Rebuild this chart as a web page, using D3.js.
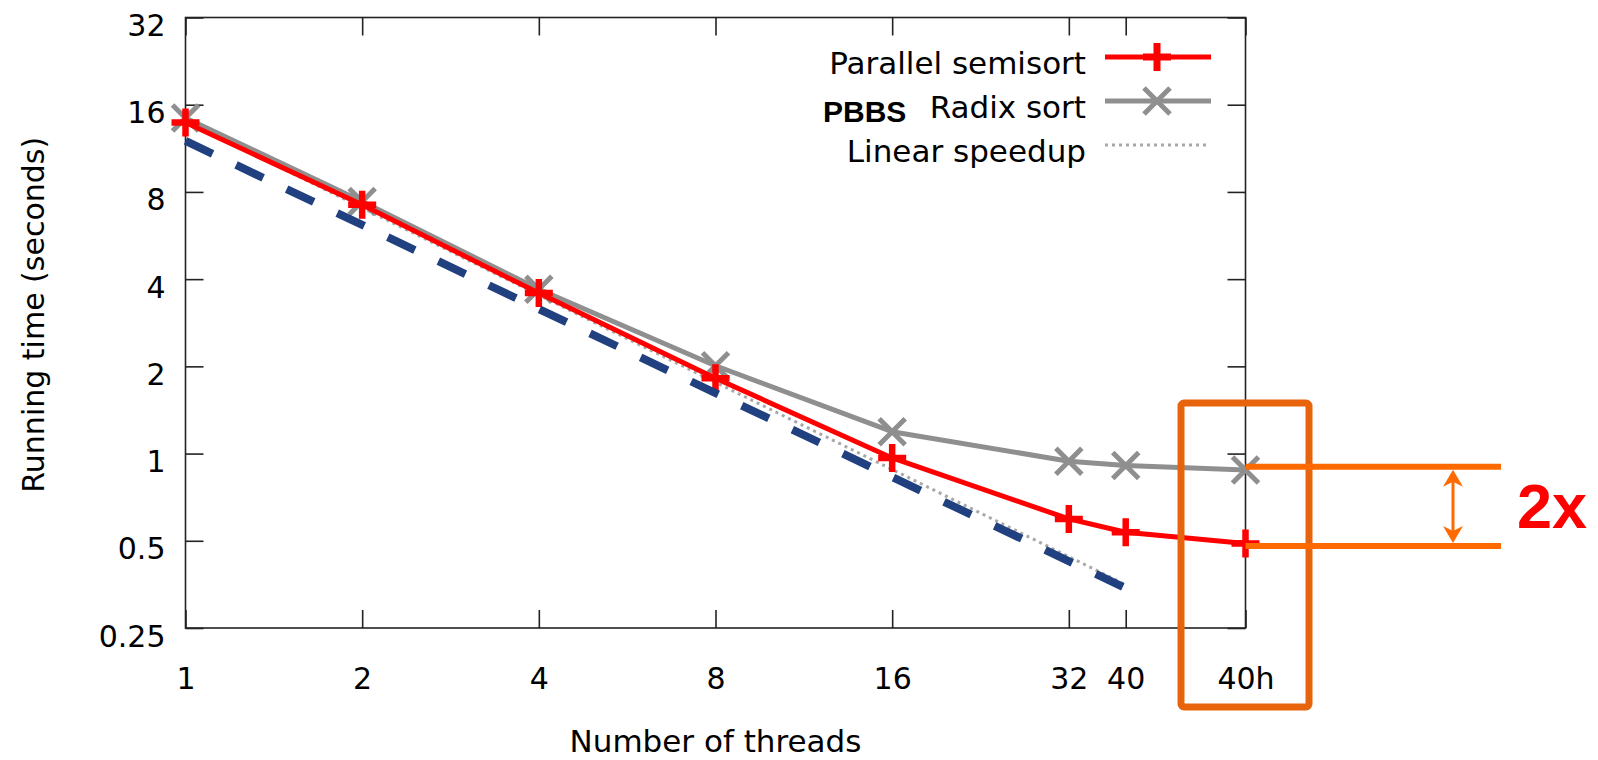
<!DOCTYPE html>
<html>
<head>
<meta charset="utf-8">
<script src="https://cdn.jsdelivr.net/npm/d3@7/dist/d3.min.js"></script>
<style>
  html, body { margin: 0; padding: 0; background: #fff; }
  svg { display: block; }
  text { fill: #000; }
</style>
</head>
<body>
<svg id="chart" width="1598" height="760"></svg>
<script>
// ---------------- data ----------------
const threadLabels = ["1", "2", "4", "8", "16", "32", "40", "40h"];
const threadPos    = [1, 2, 4, 8, 16, 32, 40, 64];   // position on log2 axis ("40h" drawn at 64)
const semisort     = [13.9, 7.22, 3.58, 1.82, 0.966, 0.595, 0.535, 0.489];
const radixsort    = [14.4, 7.41, 3.69, 2.01, 1.19, 0.941, 0.909, 0.877];
const linearX      = [1, 40];
const linearY      = [14.1, 0.3525];
const guideX       = [1, 40];        // hand-drawn blue dashed guide
const guideY       = [12.0, 0.343];
const yTicks       = [0.25, 0.5, 1, 2, 4, 8, 16, 32];
const yTickLabels  = ["0.25", "0.5", "1", "2", "4", "8", "16", "32"];
const legendNames  = ["Parallel semisort", "Radix sort", "Linear speedup"];
const gapLevels    = [0.9, 0.48];    // levels of the "2x" bracket lines

// ---------------- layout ----------------
const svg = d3.select("#chart");
const L = 185.5, R = 1245.5, T = 17.5, B = 628;
const x = d3.scaleLog().base(2).domain([1, 64]).range([L, R]);
const y = d3.scaleLog().base(2).domain([0.25, 32]).range([B, T]);

const SANS = "DejaVu Sans, Verdana, sans-serif";
const ARIAL = "Liberation Sans, Arial, sans-serif";
const RED = "#ff0000", GRAY = "#8f8f8f", DOT = "#a8a8a8", BLUE = "#21407f";
const ORANGE_BOX = "#e8640c", ORANGE_LINE = "#ff6a00";

// frame
svg.append("rect").attr("x", L).attr("y", T).attr("width", R - L).attr("height", B - T)
  .attr("fill", "none").attr("stroke", "#222").attr("stroke-width", 1.6);

// axes with inward ticks
const TL = 18;
const axB = d3.axisBottom(x).tickValues(threadPos).tickFormat((d, i) => threadLabels[i]).tickSize(-TL).tickPadding(0);
const gB = svg.append("g").attr("transform", `translate(0,${B})`).call(axB);
const axT = d3.axisTop(x).tickValues(threadPos).tickFormat("").tickSize(-TL);
const gT = svg.append("g").attr("transform", `translate(0,${T})`).call(axT);
const axLft = d3.axisLeft(y).tickValues(yTicks).tickFormat((d, i) => yTickLabels[i]).tickSize(-TL).tickPadding(0);
const gL = svg.append("g").attr("transform", `translate(${L},0)`).call(axLft);
const axRgt = d3.axisRight(y).tickValues(yTicks).tickFormat("").tickSize(-TL);
const gR = svg.append("g").attr("transform", `translate(${R},0)`).call(axRgt);

[gB, gT, gL, gR].forEach(g => {
  g.select(".domain").remove();
  g.selectAll(".tick line").attr("stroke", "#222").attr("stroke-width", 1.6);
});
gB.selectAll(".tick text").style("font-size", "30px").style("font-family", SANS)
  .attr("fill", "#000").attr("y", 0).attr("dy", 0)
  .attr("transform", "translate(0,61)");
gL.selectAll(".tick text").style("font-size", "30px").style("font-family", SANS)
  .attr("fill", "#000").attr("x", -20).attr("dy", 0)
  .attr("transform", "translate(0,18)");

// axis titles
svg.append("text").attr("x", (L + R) / 2).attr("y", 752).attr("text-anchor", "middle")
  .style("font-family", SANS).style("font-size", "31px").text("Number of threads");
svg.append("text").attr("transform", `translate(44,${(T + B) / 2 - 8}) rotate(-90)`)
  .attr("text-anchor", "middle").style("font-family", SANS).style("font-size", "30px")
  .text("Running time (seconds)");

// ---------------- series ----------------
const line = d3.line().x(d => x(d[0])).y(d => y(d[1]));

// linear speedup (dotted)
svg.append("path").datum(linearX.map((v, i) => [v, linearY[i]]))
  .attr("d", line).attr("fill", "none").attr("stroke", DOT).attr("stroke-width", 3)
  .attr("stroke-dasharray", "3,4");

const plusPath = s => `M${-s},0H${s}M0,${-s}V${s}`;
const crossPath = s => `M${-s},${-s}L${s},${s}M${-s},${s}L${s},${-s}`;

// radix sort
const radixPts = threadPos.map((v, i) => [v, radixsort[i]]);
svg.append("path").datum(radixPts).attr("d", line).attr("fill", "none")
  .attr("stroke", GRAY).attr("stroke-width", 5).attr("stroke-linejoin", "round");
svg.append("g").selectAll("path").data(radixPts).join("path")
  .attr("transform", d => `translate(${x(d[0])},${y(d[1])})`)
  .attr("d", crossPath(13)).attr("stroke", GRAY).attr("stroke-width", 5).attr("fill", "none");

// semisort
const semiPts = threadPos.map((v, i) => [v, semisort[i]]);
svg.append("path").datum(semiPts).attr("d", line).attr("fill", "none")
  .attr("stroke", RED).attr("stroke-width", 5).attr("stroke-linejoin", "round");
svg.append("g").selectAll("path").data(semiPts).join("path")
  .attr("transform", d => `translate(${x(d[0])},${y(d[1])})`)
  .attr("d", plusPath(14)).attr("stroke", RED).attr("stroke-width", 6.5).attr("fill", "none");

// blue dashed guide
svg.append("path").datum(guideX.map((v, i) => [v, guideY[i]]))
  .attr("d", line).attr("fill", "none").attr("stroke", BLUE).attr("stroke-width", 8)
  .attr("stroke-dasharray", "30,26");

// ---------------- legend ----------------
const legRows = [57, 101, 145];
const legTextX = 1086, legX0 = 1105, legX1 = 1211, legMid = 1157;
legendNames.forEach((n, i) => {
  svg.append("text").attr("x", legTextX).attr("y", legRows[i] + 17)
    .attr("text-anchor", "end").style("font-family", SANS).style("font-size", "31px").text(n);
});
svg.append("line").attr("x1", legX0).attr("x2", legX1).attr("y1", legRows[0]).attr("y2", legRows[0])
  .attr("stroke", RED).attr("stroke-width", 5);
svg.append("path").attr("transform", `translate(${legMid},${legRows[0]})`)
  .attr("d", plusPath(14)).attr("stroke", RED).attr("stroke-width", 7);
svg.append("line").attr("x1", legX0).attr("x2", legX1).attr("y1", legRows[1]).attr("y2", legRows[1])
  .attr("stroke", GRAY).attr("stroke-width", 5);
svg.append("path").attr("transform", `translate(${legMid},${legRows[1]})`)
  .attr("d", crossPath(13)).attr("stroke", GRAY).attr("stroke-width", 5);
svg.append("line").attr("x1", legX0).attr("x2", legX1 - 4).attr("y1", legRows[2]).attr("y2", legRows[2])
  .attr("stroke", DOT).attr("stroke-width", 3).attr("stroke-dasharray", "3,4");
svg.append("text").attr("x", 823).attr("y", 122)
  .style("font-family", ARIAL).style("font-weight", "bold")
  .style("font-size", "30px").text("PBBS");

// ---------------- annotation ----------------
const xh = x(64);
svg.append("rect").attr("x", xh - 64.5).attr("y", 403).attr("width", 128).attr("height", 304)
  .attr("rx", 3).attr("fill", "none").attr("stroke", ORANGE_BOX).attr("stroke-width", 7);
gapLevels.forEach(v => {
  svg.append("line").attr("x1", xh).attr("x2", 1501).attr("y1", y(v)).attr("y2", y(v))
    .attr("stroke", ORANGE_LINE).attr("stroke-width", 6);
});
const ax = 1453, ay0 = y(gapLevels[0]) + 3, ay1 = y(gapLevels[1]) - 3;
svg.append("line").attr("x1", ax).attr("x2", ax).attr("y1", ay0 + 10).attr("y2", ay1 - 10)
  .attr("stroke", ORANGE_LINE).attr("stroke-width", 3);
svg.append("path").attr("d", `M${ax},${ay0}L${ax - 10},${ay0 + 17}L${ax},${ay0 + 12}L${ax + 10},${ay0 + 17}Z`)
  .attr("fill", ORANGE_LINE);
svg.append("path").attr("d", `M${ax},${ay1}L${ax - 10},${ay1 - 17}L${ax},${ay1 - 12}L${ax + 10},${ay1 - 17}Z`)
  .attr("fill", ORANGE_LINE);
svg.append("text").attr("x", 1517).attr("y", 528)
  .style("font-family", ARIAL).style("font-weight", "bold")
  .style("font-size", "63px").style("fill", RED).text("2x");
</script>
</body>
</html>
